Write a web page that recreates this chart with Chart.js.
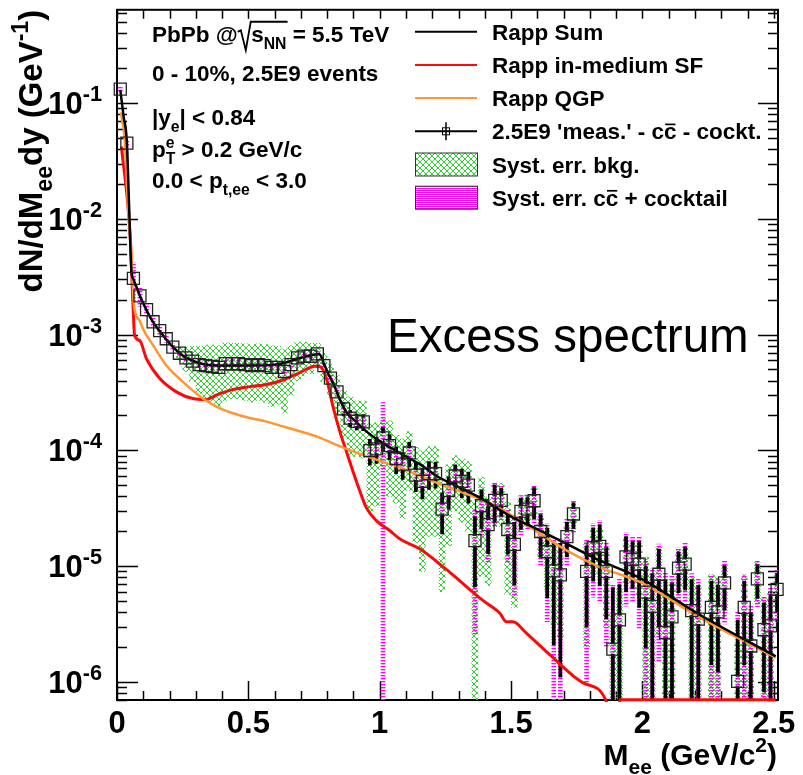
<!DOCTYPE html>
<html>
<head>
<meta charset="utf-8">
<script src="https://cdn.jsdelivr.net/npm/chart.js@4.4.0/dist/chart.umd.min.js"></script>
<style>
  body { margin: 0; background: #fff; }
  canvas { display: block; }
</style>
</head>
<body>
<canvas id="excessChart" width="803" height="775"></canvas>
<script>
// ---- values ----
const massBins = [
  0.0125, 0.0375, 0.0625, 0.0875, 0.1125, 0.1375, 0.1625, 0.1875, 0.2125, 0.2375,
  0.2625, 0.2875, 0.3125, 0.3375, 0.3625, 0.3875, 0.4125, 0.4375, 0.4625, 0.4875,
  0.5125, 0.5375, 0.5625, 0.5875, 0.6125, 0.6375, 0.6625, 0.6875, 0.7125, 0.7375,
  0.7625, 0.7875, 0.8125, 0.8375, 0.8625, 0.8875, 0.9125, 0.9375, 0.9625, 0.9875,
  1.0125, 1.0375, 1.0625, 1.0875, 1.1125, 1.1375, 1.1625, 1.1875, 1.2125, 1.2375,
  1.2625, 1.2875, 1.3125, 1.3375, 1.3625, 1.3875, 1.4125, 1.4375, 1.4625, 1.4875,
  1.5125, 1.5375, 1.5625, 1.5875, 1.6125, 1.6375, 1.6625, 1.6875, 1.7125, 1.7375,
  1.7625, 1.7875, 1.8125, 1.8375, 1.8625, 1.8875, 1.9125, 1.9375, 1.9625, 1.9875,
  2.0125, 2.0375, 2.0625, 2.0875, 2.1125, 2.1375, 2.1625, 2.1875, 2.2125, 2.2375,
  2.2625, 2.2875, 2.3125, 2.3375, 2.3625, 2.3875, 2.4125, 2.4375, 2.4625, 2.4875,
  2.5125
];
const excessYield = [
  1.32e-1, 4.5e-2, 3.06e-3, 2.16e-3, 1.64e-3, 1.29e-3, 1.08e-3, 9.2e-4, 7.8e-4, 6.9e-4,
  6.3e-4, 5.9e-4, 5.5e-4, 5.4e-4, 5.3e-4, 5.2e-4, 5.6e-4, 5.6e-4, 5.6e-4, 5.5e-4,
  5.4e-4, 5.5e-4, 5.4e-4, 5.2e-4, 5.2e-4, 4.8e-4, 5.5e-4, 6.3e-4, 6.5e-4, 6.5e-4,
  6.8e-4, 5.4e-4, 4.2e-4, 3.2e-4, 2.28e-4, 1.9e-4, 1.78e-4, 1.76e-4, 9.95e-5, 1.03e-4,
  1.28e-4, 1.1e-4, 8.5e-5, 7.6e-5, 9.5e-5, 6.1e-5, 5.4e-5, 6.3e-5, 6.3e-5, 3.1e-5,
  4.5e-5, 6.0e-5, 5.4e-5, 5.0e-5, 1.66e-5, 3.32e-5, 2.28e-5, 3.7e-5, 3.7e-5, 2.07e-5,
  1.54e-5, 2.97e-5, 3.11e-5, 3.67e-5, 1.99e-5, 1.33e-5, 9.1e-6, 8.4e-6, 1.8e-5, 2.82e-5,
  null, 9.0e-6, 1.44e-5, 1.48e-5, 9.0e-6, 1.92e-6, 3.43e-6, 1.2e-5, 1.14e-5, 1.04e-5,
  5.96e-6, 4.48e-6, 8.5e-6, 2.67e-6, 3.64e-6, 9.6e-6, 1.04e-5, 4.12e-6, 3.48e-6, null,
  4.4e-6, 4.02e-6, 7.16e-6, null, 1.01e-6, 4.4e-6, 2.04e-6, 7.75e-6, 2.82e-6, 3.05e-6,
  6.3e-6
];
const statErr = [
  4e-3, 1.5e-3, 1.5e-4, 1e-4, 8e-5, 6e-5, 5e-5, 4e-5, 4e-5, 4e-5,
  4e-5, 4e-5, 4e-5, 4e-5, 4e-5, 4e-5, 4e-5, 4e-5, 4e-5, 4e-5,
  4e-5, 4e-5, 4e-5, 4e-5, 4e-5, 4e-5, 4e-5, 4e-5, 4e-5, 4e-5,
  4e-5, 4e-5, 3.5e-5, 3e-5, 3e-5, 3e-5, 2.8e-5, 2.8e-5, 2.5e-5, 2.6e-5,
  3e-5, 2.7e-5, 2.2e-5, 2e-5, 2.3e-5, 1.7e-5, 1.6e-5, 1.7e-5, 1.6e-5, 1.2e-5,
  1.4e-5, 1.5e-5, 1.5e-5, 1.5e-5, 1e-5, 1.2e-5, 1e-5, 1.3e-5, 1e-5, 8e-6,
  8.5e-6, 9e-6, 8e-6, 1.1e-5, 8e-6, 8e-6, 7e-6, 7.3e-6, 6e-6, 7e-6,
  null, 6e-6, 7e-6, 8e-6, 5.5e-6, 4.6e-6, 3.5e-6, 6e-6, 5e-6, 6e-6,
  4e-6, 4.1e-6, 5.5e-6, 4.9e-6, 3.5e-6, 3.7e-6, 4.2e-6, 3.5e-6, 3.3e-6, null,
  3e-6, 2.8e-6, 3e-6, null, 2.4e-6, 3e-6, 1.9e-6, 2.5e-6, 2e-6, 2.6e-6,
  2.3e-6
];
const systBkg = [
  0, 0, 0, 0, 0, 0, 0, 0, 0, 9e-5,
  1.5e-4, 2e-4, 2.4e-4, 2.7e-4, 2.8e-4, 2.8e-4, 2.9e-4, 2.8e-4, 2.8e-4, 2.8e-4,
  2.8e-4, 2.8e-4, 2.8e-4, 2.8e-4, 2.7e-4, 2.7e-4, 2.5e-4, 2.3e-4, 2.1e-4, 1.9e-4,
  1.6e-4, 1.5e-4, 1.3e-4, 1.2e-4, 1e-4, 1e-4, 9e-5, 9e-5, 7e-5, 7e-5,
  6e-5, 7e-5, 5e-5, 5e-5, 5e-5, 4.5e-5, 4.5e-5, 4.5e-5, 4.5e-5, 2.5e-5,
  3e-5, 3e-5, 3e-5, 3e-5, 2e-5, 2.5e-5, 1.6e-5, 1.5e-5, 1.5e-5, 1.5e-5,
  1.1e-5, 1e-5, 1e-5, 1e-5, 8e-6, 7e-6, 6e-6, 6e-6, 6e-6, 5e-6,
  null, 7e-6, 6e-6, 6e-6, 6e-6, 2e-6, 3e-6, 5e-6, 5e-6, 5e-6,
  6e-6, 4e-6, 6e-6, 3e-6, 4e-6, 4e-6, 4e-6, 4e-6, 3.5e-6, null,
  4e-6, 4e-6, 3e-6, null, 1.2e-6, 4e-6, 2e-6, 3e-6, 2.5e-6, 3e-6,
  2e-6
];
const systCharm = [
  8e-3, 3e-3, 1.1e-3, 4e-4, 2e-4, 1.2e-4, 8e-5, 6e-5, 5e-5, 4e-5,
  3.5e-5, 3.5e-5, 3.5e-5, 3.5e-5, 3.5e-5, 3.5e-5, 3.5e-5, 3.5e-5, 3.5e-5, 3.5e-5,
  3.5e-5, 3.5e-5, 3.5e-5, 3.5e-5, 3.5e-5, 3.5e-5, 3.5e-5, 3.5e-5, 3.5e-5, 3.5e-5,
  3.5e-5, 3e-5, 2.5e-5, 2.5e-5, 2e-5, 2e-5, 2e-5, 2e-5, 1.5e-5, 1.5e-5,
  1.3e-4, 1.5e-5, 1.2e-5, 1.2e-5, 1.4e-5, 1e-5, 1e-5, 1e-5, 1e-5, 8e-6,
  1e-5, 1e-5, 1e-5, 1e-5, 1.4e-5, 1.5e-5, 1.2e-5, 1.5e-5, 1.2e-5, 1e-5,
  1e-5, 1.1e-5, 1e-5, 1.3e-5, 1e-5, 1e-5, 9e-6, 9e-6, 8e-6, 9e-6,
  null, 8e-6, 9e-6, 1e-5, 7e-6, 5e-6, 4.5e-6, 7.5e-6, 6.5e-6, 7.5e-6,
  5.5e-6, 5e-6, 7e-6, 6e-6, 4.5e-6, 4.8e-6, 5.5e-6, 4.5e-6, 4.2e-6, null,
  4e-6, 3.6e-6, 4e-6, null, 3e-6, 4e-6, 2.5e-6, 3.3e-6, 2.7e-6, 3.4e-6,
  3e-6
];

const rappSumMass = [0.0125, 0.025, 0.0375, 0.046, 0.055, 0.0625, 0.0875, 0.1125, 0.1375, 0.1625,
  0.2, 0.25, 0.3, 0.35, 0.4, 0.5, 0.6, 0.65, 0.7, 0.75, 0.77, 0.7875, 0.8, 0.825, 0.85, 0.875,
  0.9, 0.95, 1.0, 1.076, 1.152, 1.228, 1.305, 1.381, 1.495, 1.609, 1.723, 1.837, 1.99, 2.218, 2.507];
const rappSumYield = [0.13, 0.077, 0.046, 0.013, 3.5e-3, 3.0e-3, 2.15e-3, 1.62e-3, 1.28e-3, 1.07e-3,
  8.4e-4, 6.6e-4, 5.8e-4, 5.45e-4, 5.4e-4, 5.4e-4, 5.5e-4, 5.8e-4, 6.3e-4, 6.7e-4, 6.8e-4, 5.6e-4, 4.8e-4, 3.7e-4, 2.7e-4, 2.1e-4,
  1.85e-4, 1.45e-4, 1.2e-4, 9.5e-5, 7.6e-5, 5.8e-5, 4.77e-5, 3.9e-5, 2.72e-5, 2.03e-5, 1.51e-5, 1.12e-5, 7.9e-6, 3.8e-6, 1.66e-6];

const rappSfMass = [0.017, 0.051, 0.061, 0.067, 0.086, 0.112, 0.163, 0.226, 0.289, 0.34,
  0.378, 0.442, 0.505, 0.569, 0.632, 0.696, 0.753, 0.772, 0.797, 0.822, 0.848, 0.873, 0.898,
  0.924, 0.949, 0.987, 1.038, 1.076, 1.152, 1.25, 1.39, 1.458, 1.482, 1.507, 1.558, 1.647,
  1.774, 1.86, 1.88, 1.905, 1.915, 2.507];
const rappSfYield = [0.042, 6.6e-3, 1.78e-3, 9.8e-4, 8.9e-4, 6.2e-4, 4.17e-4, 3.2e-4, 2.8e-4, 2.75e-4,
  3.0e-4, 3.36e-4, 3.55e-4, 3.7e-4, 4.05e-4, 4.7e-4, 5.33e-4, 5.3e-4, 4.2e-4, 2.4e-4, 1.46e-4, 9.8e-5, 6.6e-5,
  4.47e-5, 3.2e-5, 2.47e-5, 2.03e-5, 1.72e-5, 1.41e-5, 9.5e-6, 5.1e-6, 3.9e-6, 3.3e-6, 3.3e-6, 2.64e-6, 1.72e-6,
  9.8e-7, 7.0e-7, 4e-7, 4e-7, 7.0e-7, 7.0e-7];

const rappQgpMass = [0.013, 0.0167, 0.0293, 0.0419, 0.0548, 0.0636, 0.0738, 0.0864, 0.099, 0.137,
  0.188, 0.251, 0.327, 0.378, 0.442, 0.505, 0.569, 0.632, 0.696, 0.759, 0.822, 0.879, 0.949,
  1.076, 1.203, 1.33, 1.431, 1.723, 1.837, 1.99, 2.218, 2.507];
const rappQgpYield = [0.083, 0.078, 0.0475, 0.0128, 4.8e-3, 1.9e-3, 1.46e-3, 1.32e-3, 1.12e-3, 8.1e-4,
  5.4e-4, 3.9e-4, 2.8e-4, 2.39e-4, 2.09e-4, 1.9e-4, 1.77e-4, 1.61e-4, 1.46e-4, 1.32e-4, 1.15e-4, 1.02e-4, 8.9e-5,
  7.1e-5, 5.4e-5, 4.2e-5, 3.4e-5, 1.32e-5, 9.8e-6, 7.3e-6, 3.6e-6, 1.62e-6];

const xTickValues = [0, 0.5, 1, 1.5, 2, 2.5];
const xTickLabels = ['0', '0.5', '1', '1.5', '2', '2.5'];
const yDecades = [-6, -5, -4, -3, -2, -1];

// ---- style ----
const FONT = '"Liberation Sans", Arial, Helvetica, sans-serif';
const ORANGE = 'rgb(255,150,50)';
const RED = 'rgb(250,10,10)';
const GREEN = 'rgb(50,205,50)';
const MAGENTA = 'rgb(255,0,255)';
const MARKER_GAP = 1.11;   // error bar stops at the marker edge (about 5px in log)
const TINY = 1e-9;

const canvas = document.getElementById('excessChart');
const ctx = canvas.getContext('2d');

function makePattern(w, h, draw) {
  const c = document.createElement('canvas');
  c.width = w; c.height = h;
  draw(c.getContext('2d'));
  return ctx.createPattern(c, 'repeat');
}
const greenHatch = makePattern(6, 6, g => {
  g.fillStyle = GREEN;
  for (let i = 0; i < 6; i++) {
    g.fillRect(i, i, 1, 1);
    g.fillRect(5 - i, i, 1, 1);
  }
});
const magentaHatch = makePattern(2, 2, g => {
  g.fillStyle = MAGENTA; g.fillRect(0, 0, 2, 1);
});
const magentaColumn = makePattern(3, 3, g => {
  g.fillStyle = MAGENTA; g.fillRect(0, 0, 3, 1);
  g.fillStyle = 'rgba(255,0,255,0.35)'; g.fillRect(0, 1, 3, 1);
});

function boxData(errs) {
  const out = [];
  massBins.forEach((m, i) => {
    const v = excessYield[i], e = errs[i];
    if (v == null || !e) return;
    out.push({x: m, y: [Math.max(v - e, TINY), v + e]});
  });
  return out;
}
function statBars() {
  const out = [];
  massBins.forEach((m, i) => {
    const v = excessYield[i], e = statErr[i];
    if (v == null || !e) return;
    if (v - e < v / MARKER_GAP) out.push({x: m, y: [Math.max(v - e, TINY), v / MARKER_GAP]});
    if (v + e > v * MARKER_GAP) out.push({x: m, y: [v * MARKER_GAP, v + e]});
  });
  return out;
}
const pairs = (xs, ys) => xs.map((x, i) => ({x: x, y: ys[i]}));

// ---- text with sub/superscripts ----
function drawRich(c, parts, x, y, size, align, weight) {
  weight = weight || 'bold';
  const small = size * 0.7;
  const setFont = s => { c.font = weight + ' ' + s + 'px ' + FONT; };
  const widths = parts.map(p => {
    if (p.t !== undefined) { setFont(size); return c.measureText(p.t).width; }
    if (p.bar !== undefined) { setFont(size); return c.measureText(p.bar).width; }
    if (p.root) return 0.6 * size;
    setFont(small);
    return Math.max(p.sub ? c.measureText(p.sub).width : 0, p.sup ? c.measureText(p.sup).width : 0);
  });
  const total = widths.reduce((a, b) => a + b, 0);
  let cx = align === 'right' ? x - total : align === 'center' ? x - total / 2 : x;
  c.textAlign = 'left';
  c.textBaseline = 'alphabetic';
  parts.forEach((p, i) => {
    if (p.t !== undefined) { setFont(size); c.fillText(p.t, cx, y); }
    else if (p.bar !== undefined) {
      setFont(size); c.fillText(p.bar, cx, y);
      c.fillRect(cx + 0.05 * size, y - 0.7 * size, widths[i] - 0.1 * size, 0.075 * size);
    } else if (p.root) {
      let span = 0;
      for (let k = i + 1; k <= i + p.root; k++) span += widths[k];
      c.save();
      c.lineWidth = 0.08 * size;
      c.strokeStyle = c.fillStyle;
      c.beginPath();
      c.moveTo(cx, y - 0.45 * size);
      c.lineTo(cx + 0.14 * size, y - 0.52 * size);
      c.lineTo(cx + 0.36 * size, y + 0.36 * size);
      c.lineTo(cx + 0.58 * size, y - 0.9 * size);
      c.lineTo(cx + 0.6 * size + span + 0.05 * size, y - 0.9 * size);
      c.stroke();
      c.restore();
    } else {
      setFont(small);
      if (p.sub) c.fillText(p.sub, cx, y + 0.3 * size);
      if (p.sup) c.fillText(p.sup, cx, y - 0.42 * size);
    }
    cx += widths[i];
  });
  return total;
}

// ---- ROOT-like frame, ticks, labels, legend ----
const rootFrame = {
  id: 'rootFrame',
  beforeDraw(chart) {
    const c = chart.ctx;
    c.save(); c.fillStyle = '#fff'; c.fillRect(0, 0, chart.width, chart.height); c.restore();
  },
  beforeDatasetsDraw(chart) {
    const c = chart.ctx;
    const a = chart.chartArea;
    const xs = chart.scales.x, ys = chart.scales.y;
    c.save();
    c.strokeStyle = '#000';
    c.lineWidth = 1.5;
    c.beginPath();
    for (let t = 0; t <= 2.5001; t += 0.1) {
      const px = Math.round(xs.getPixelForValue(t)) + 0.5;
      const major = Math.abs(t * 2 - Math.round(t * 2)) < 1e-6;
      c.moveTo(px, a.bottom); c.lineTo(px, a.bottom - (major ? 19 : 9));
      c.moveTo(px, a.top); c.lineTo(px, a.top + 9);
    }
    for (let d = -7; d <= 0; d++) {
      for (let m = 1; m <= 9; m++) {
        const v = m * Math.pow(10, d);
        if (v < ys.min || v > ys.max) continue;
        const py = Math.round(ys.getPixelForValue(v)) + 0.5;
        c.moveTo(a.left, py); c.lineTo(a.left + (m === 1 ? 21 : 10), py);
        c.moveTo(a.right, py); c.lineTo(a.right - (m === 1 ? 20 : 10), py);
      }
    }
    c.stroke();
    c.lineWidth = 2;
    c.strokeRect(a.left, a.top, a.right - a.left, a.bottom - a.top);
    c.restore();
  },
  afterDraw(chart) {
    const c = chart.ctx;
    const a = chart.chartArea;
    const xs = chart.scales.x, ys = chart.scales.y;
    c.save();
    c.fillStyle = '#000';

    // tick labels
    xTickValues.forEach((t, i) => {
      drawRich(c, [{t: xTickLabels[i]}], xs.getPixelForValue(t), 733, 31, 'center');
    });
    yDecades.forEach(d => {
      const py = ys.getPixelForValue(Math.pow(10, d));
      drawRich(c, [{t: '10'}, {sup: String(d)}], 102, py + 11, 31, 'right');
    });

    // axis titles
    drawRich(c, [{t: 'M'}, {sub: 'ee'}, {t: ' (GeV/c'}, {sup: '2'}, {t: ')'}], 777, 765, 30, 'right');
    c.save();
    c.translate(42, a.top);
    c.rotate(-Math.PI / 2);
    drawRich(c, [{t: 'dN/dM'}, {sub: 'ee'}, {t: 'dy (GeV'}, {sup: '-1'}, {t: ')'}], 0, 0, 33, 'right');
    c.restore();

    // event / cut text
    drawRich(c, [{t: 'PbPb @'}, {root: 2}, {t: 's'}, {sub: 'NN'}, {t: ' = 5.5 TeV'}], 152, 42, 22.5, 'left');
    drawRich(c, [{t: '0 - 10%, 2.5E9 events'}], 152, 81, 22.5, 'left');
    drawRich(c, [{t: '|y'}, {sub: 'e'}, {t: '| < 0.84'}], 152, 125, 22.5, 'left');
    drawRich(c, [{t: 'p'}, {sub: 'T', sup: 'e'}, {t: ' > 0.2 GeV/c'}], 152, 157, 22.5, 'left');
    drawRich(c, [{t: '0.0 < p'}, {sub: 't,ee'}, {t: ' < 3.0'}], 152, 188, 22.5, 'left');

    // big label
    drawRich(c, [{t: 'Excess spectrum'}], 387, 352, 47.5, 'left', 'normal');

    // legend
    const rows = [
      {kind: 'line', color: '#000', text: [{t: 'Rapp Sum'}]},
      {kind: 'line', color: RED, text: [{t: 'Rapp in-medium SF'}]},
      {kind: 'line', color: ORANGE, text: [{t: 'Rapp QGP'}]},
      {kind: 'marker', text: [{t: "2.5E9 'meas.' - c"}, {bar: 'c'}, {t: ' - cockt.'}]},
      {kind: 'box', fill: greenHatch, text: [{t: 'Syst. err. bkg.'}]},
      {kind: 'box', fill: magentaHatch, text: [{t: 'Syst. err. c'}, {bar: 'c'}, {t: ' + cocktail'}]}
    ];
    const lx0 = 415, lx1 = 477, tx = 492;
    rows.forEach((r, i) => {
      const cy = 31.7 + i * 33.2;
      if (r.kind === 'line' || r.kind === 'marker') {
        c.lineWidth = 2;
        c.strokeStyle = r.color || '#000';
        c.beginPath(); c.moveTo(lx0, cy); c.lineTo(lx1, cy); c.stroke();
        if (r.kind === 'marker') {
          const mx = (lx0 + lx1) / 2;
          c.strokeStyle = '#000'; c.lineWidth = 1.5;
          c.beginPath(); c.moveTo(mx, cy - 9); c.lineTo(mx, cy + 9); c.stroke();
          c.lineWidth = 1; c.strokeRect(mx - 3.5, cy - 3.5, 7, 7);
        }
      } else {
        c.fillStyle = r.fill; c.fillRect(lx0, cy - 11.5, lx1 - lx0, 23);
        c.strokeStyle = '#333'; c.lineWidth = 1;
        c.strokeRect(lx0 + 0.5, cy - 11.5, lx1 - lx0, 23);
        c.fillStyle = '#000';
      }
      drawRich(c, r.text, tx, cy + 8, 22.5, 'left');
    });
    c.restore();
  }
};

new Chart(ctx, {
  type: 'scatter',
  data: {
    datasets: [
      {
        type: 'bar', label: 'Syst. err. bkg.', data: boxData(systBkg),
        backgroundColor: greenHatch, borderWidth: 0, barThickness: 6, grouped: false, order: 7
      },
      {
        type: 'bar', label: 'Syst. err. cc + cocktail', data: boxData(systCharm),
        backgroundColor: magentaColumn, borderWidth: 0, barThickness: 4, grouped: false, order: 6
      },
      {
        type: 'bar', label: 'stat', data: statBars(),
        backgroundColor: '#000', borderWidth: 0, barThickness: 3, grouped: false, order: 5
      },
      {
        type: 'line', label: 'Rapp in-medium SF', data: pairs(rappSfMass, rappSfYield),
        borderColor: RED, borderWidth: 3, pointRadius: 0, cubicInterpolationMode: 'monotone',
        clip: {left: 0, top: 0, right: 0, bottom: 2}, order: 4
      },
      {
        type: 'line', label: 'Rapp QGP', data: pairs(rappQgpMass, rappQgpYield),
        borderColor: ORANGE, borderWidth: 2.5, pointRadius: 0, cubicInterpolationMode: 'monotone', order: 3
      },
      {
        type: 'line', label: 'Rapp Sum', data: pairs(rappSumMass, rappSumYield),
        borderColor: '#000', borderWidth: 2.5, pointRadius: 0, cubicInterpolationMode: 'monotone', order: 2
      },
      {
        type: 'scatter', label: "2.5E9 'meas.'",
        data: massBins.map((m, i) => ({x: m, y: excessYield[i]})).filter(p => p.y != null),
        pointStyle: 'rect', pointRadius: 8.5, pointBorderWidth: 1.3,
        pointBorderColor: '#222', pointBackgroundColor: 'rgba(0,0,0,0)',
        clip: {left: 8, top: 8, right: 8, bottom: 0}, order: 1
      }
    ]
  },
  options: {
    responsive: false,
    animation: false,
    devicePixelRatio: 1,
    events: [],
    layout: {padding: {left: 117, top: 5, right: 25, bottom: 75}},
    scales: {
      x: {type: 'linear', min: 0, max: 2.516, display: false, offset: false},
      y: {type: 'logarithmic', min: 6.97e-7, max: 0.639, display: false}
    },
    plugins: {legend: {display: false}, tooltip: {enabled: false}}
  },
  plugins: [rootFrame]
});
</script>
</body>
</html>
